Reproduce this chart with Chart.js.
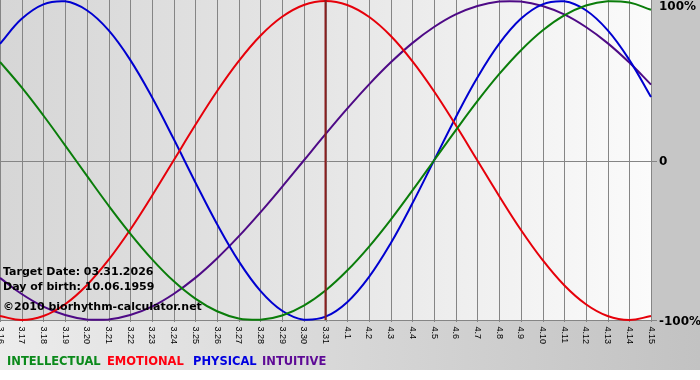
<!DOCTYPE html>
<html>
<head>
<meta charset="utf-8">
<script src="https://cdn.jsdelivr.net/npm/chart.js@4/dist/chart.umd.min.js"></script>
<style>
html,body{margin:0;padding:0;background:#fff;}
#c{display:block;}
</style>
</head>
<body>
<canvas id="c" width="700" height="380"></canvas>
<script>
// ---- data ----
const dayLabels = ['3.16','3.17','3.18','3.19','3.20','3.21','3.22','3.23','3.24','3.25','3.26','3.27','3.28','3.29','3.30','3.31',
  '4.1','4.2','4.3','4.4','4.5','4.6','4.7','4.8','4.9','4.10','4.11','4.12','4.13','4.14','4.15'];
const intellectual = [0.618,0.458,0.282,0.095,-0.095,-0.282,-0.458,-0.618,-0.756,-0.866,-0.945,-0.990,-0.999,-0.972,-0.910,-0.815,
  -0.690,-0.541,-0.372,-0.189,0,0.189,0.372,0.541,0.690,0.815,0.910,0.972,0.999,0.990,0.945];
const emotional = [-0.975,-1,-0.975,-0.901,-0.782,-0.623,-0.434,-0.222,0,0.222,0.434,0.623,0.782,0.901,0.975,1,
  0.975,0.901,0.782,0.623,0.434,0.222,0,-0.222,-0.434,-0.623,-0.782,-0.901,-0.975,-1,-0.975];
const physical = [0.731,0.888,0.979,0.998,0.942,0.817,0.631,0.398,0.136,-0.136,-0.398,-0.631,-0.817,-0.942,-0.998,-0.979,
  -0.888,-0.731,-0.520,-0.270,0,0.270,0.520,0.731,0.888,0.979,0.998,0.942,0.817,0.631,0.398];
const intuitive = [-0.736,-0.837,-0.916,-0.969,-0.997,-0.997,-0.969,-0.916,-0.837,-0.736,-0.614,-0.476,-0.325,-0.165,0,0.165,
  0.325,0.476,0.614,0.736,0.837,0.916,0.969,0.997,0.997,0.969,0.916,0.837,0.736,0.614,0.476];
const yTickValues = [1, 0, -1];
const yTickLabels = ['100%', '0', '-100%'];
const seriesNames = ['INTELLECTUAL', 'EMOTIONAL', 'PHYSICAL', 'INTUITIVE'];
const targetLabel = '3.31';
const infoLines = ['Target Date: 03.31.2026', 'Day of birth: 10.06.1959', '\u00A92010 biorhythm-calculator.net'];

// ---- styles ----
const lineColors = ['#0a7d0a', '#e6000a', '#0000d0', '#4e0a86'];
const legendColors = ['#0b8a1b', '#ff0010', '#0000e0', '#5e0a96'];

const decor = {
  id: 'decor',
  beforeDraw(chart) {
    const {ctx, chartArea: a, width, height} = chart;
    ctx.save();
    ctx.fillStyle = '#ffffff';
    ctx.fillRect(0, 0, width, height);
    ctx.fillStyle = '#c6c6c6';
    ctx.fillRect(a.right, 0, width - a.right, a.bottom + 1);
    let g = ctx.createLinearGradient(0, 0, width, 0);
    g.addColorStop(0, '#ececec');
    g.addColorStop(1, '#c2c2c2');
    ctx.fillStyle = g;
    ctx.fillRect(0, a.bottom + 1, width, 370 - a.bottom - 1);
    g = ctx.createLinearGradient(a.left, 0, a.right, 0);
    g.addColorStop(0, '#d6d6d6');
    g.addColorStop(0.5, '#e6e6e6');
    g.addColorStop(1, '#fbfbfb');
    ctx.fillStyle = g;
    ctx.fillRect(a.left, 0, a.right - a.left, a.bottom + 1);
    ctx.restore();
  },
  beforeDatasetsDraw(chart) {
    const {ctx, chartArea: a, scales} = chart;
    const xs = scales.x, ys = scales.y;
    ctx.save();
    ctx.strokeStyle = '#858585';
    ctx.lineWidth = 1;
    dayLabels.forEach((l, i) => {
      const x = Math.round(xs.getPixelForValue(i)) + 0.5;
      ctx.beginPath();
      ctx.moveTo(x, 0);
      ctx.lineTo(x, a.bottom + 2);
      ctx.stroke();
    });
    const y0 = Math.round(ys.getPixelForValue(0)) + 0.5;
    ctx.beginPath();
    ctx.moveTo(a.left, y0);
    ctx.lineTo(a.right + 6, y0);
    ctx.stroke();
    ctx.beginPath();
    ctx.moveTo(a.left, a.bottom + 0.5);
    ctx.lineTo(a.right + 6, a.bottom + 0.5);
    ctx.stroke();
    ctx.restore();
  },
  afterDatasetsDraw(chart) {
    const {ctx, chartArea: a, scales} = chart;
    const xs = scales.x, ys = scales.y;
    ctx.save();
    const ti = dayLabels.indexOf(targetLabel);
    const tx = xs.getPixelForValue(ti);
    ctx.strokeStyle = '#8a1f1f';
    ctx.lineWidth = 2;
    ctx.beginPath();
    ctx.moveTo(tx, 0);
    ctx.lineTo(tx, a.bottom);
    ctx.stroke();
    ctx.fillStyle = '#000';
    ctx.font = '9px "Liberation Sans", Arial, sans-serif';
    ctx.textAlign = 'left';
    ctx.textBaseline = 'middle';
    dayLabels.forEach((l, i) => {
      const x = xs.getPixelForValue(i);
      ctx.save();
      ctx.translate(x, a.bottom + 6.5);
      ctx.rotate(Math.PI / 2);
      ctx.fillText(l, 0, 0);
      ctx.restore();
    });
    ctx.font = 'bold 12px "DejaVu Sans", sans-serif';
    ctx.fillStyle = '#000';
    yTickValues.forEach((v, i) => {
      const y = Math.max(ys.getPixelForValue(v) + 1.5, 7);
      ctx.fillText(yTickLabels[i], a.right + 8, y);
    });
    ctx.font = 'bold 11px "DejaVu Sans", sans-serif';
    const infoY = [272, 287, 307];
    infoLines.forEach((t, i) => ctx.fillText(t, 3, infoY[i]));
    ctx.font = 'bold 11.5px "DejaVu Sans", sans-serif';
    const legX = [7, 107, 193, 262];
    seriesNames.forEach((n, i) => {
      ctx.fillStyle = legendColors[i];
      ctx.fillText(n, legX[i], 362);
    });
    ctx.restore();
  }
};

const mk = (label, data, color) => ({
  label, data, borderColor: color, borderWidth: 2, pointRadius: 0,
  tension: 0.4, fill: false, clip: 4
});

new Chart(document.getElementById('c'), {
  type: 'line',
  data: {
    labels: dayLabels,
    datasets: [
      mk(seriesNames[0], intellectual, lineColors[0]),
      mk(seriesNames[1], emotional, lineColors[1]),
      mk(seriesNames[2], physical, lineColors[2]),
      mk(seriesNames[3], intuitive, lineColors[3])
    ]
  },
  options: {
    responsive: false,
    devicePixelRatio: 1,
    animation: false,
    layout: {padding: {left: 0, right: 49, top: 1, bottom: 60}},
    plugins: {legend: {display: false}, tooltip: {enabled: false}},
    scales: {
      x: {display: false},
      y: {display: false, min: -1, max: 1}
    }
  },
  plugins: [decor]
});
</script>
</body>
</html>
